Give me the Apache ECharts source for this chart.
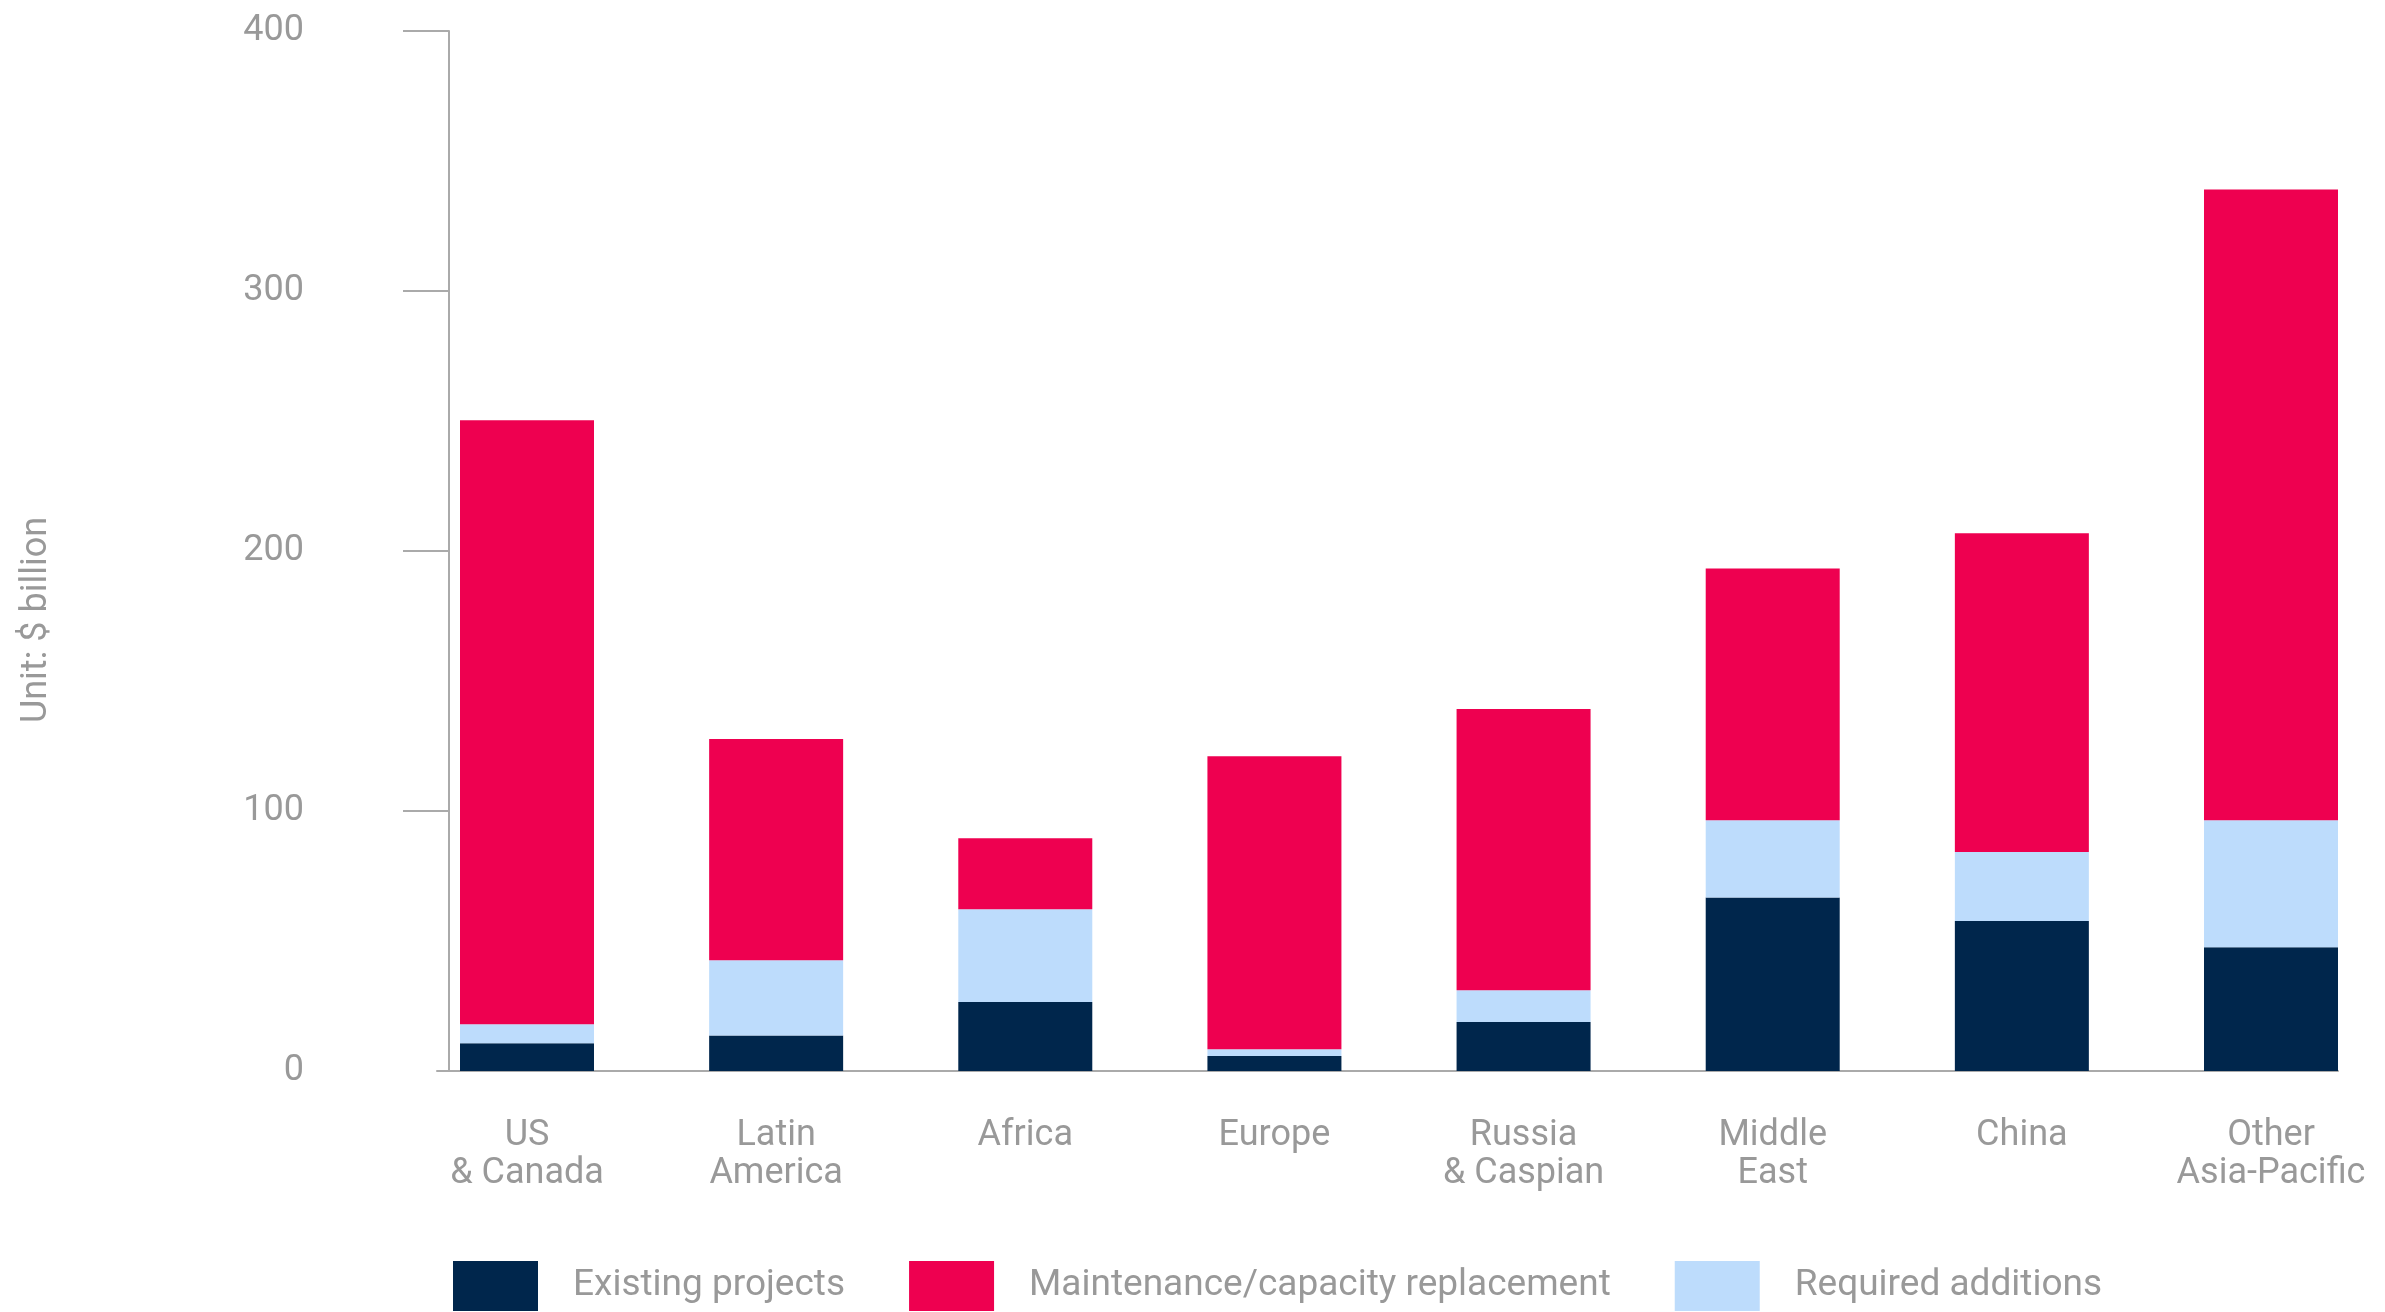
<!DOCTYPE html>
<html lang="en">
<head>
    <meta charset="UTF-8">
    <title>Investment by region</title>
    <script src="https://cdn.jsdelivr.net/npm/echarts@6.0.0/dist/echarts.min.js"></script>
    <style>
        html, body { margin: 0; padding: 0; background: #fff; }
        #chart { width: 2385px; height: 1312px; }
    </style>
</head>
<body>
    <div id="chart"></div>
    <script>
    // regions along the x axis
    var regions = ['US\n& Canada', 'Latin\nAmerica', 'Africa', 'Europe', 'Russia\n& Caspian', 'Middle\nEast', 'China', 'Other\nAsia-Pacific'];
    // $ billion
    var existingProjects = [10.7, 13.7, 26.5, 5.8, 18.8, 66.7, 57.7, 47.6];
    var requiredAdditions = [7.3, 28.9, 35.7, 2.6, 12.3, 29.7, 26.5, 48.8];
    var maintenance = [232.3, 85.1, 27.3, 112.7, 108.1, 96.9, 122.6, 242.6];
    var yTicks = [100, 200, 300, 400];

    var grey = '#999999';
    var font = 'Roboto, "Noto Sans", sans-serif';

    var chart = echarts.init(document.getElementById('chart'));

    var option = {
        animation: false,
        grid: [
            // bar grid: first and last category sit on the grid edges
            { left: 527, right: 114, top: 31, bottom: 241 },
            // axis-line grid
            { left: 437, right: 47, top: 31, bottom: 241 }
        ],
        legend: {
            left: 453,
            top: 1261,
            padding: 0,
            itemWidth: 85,
            itemHeight: 50,
            itemGap: 64,
            icon: 'rect',
            data: ['Existing projects', 'Maintenance/capacity replacement', 'Required additions'],
            textStyle: { color: grey, fontSize: 37, fontFamily: font, padding: [0, 0, 0, 30] }
        },
        xAxis: [
            {
                type: 'category',
                gridIndex: 0,
                boundaryGap: false,
                data: regions,
                axisLine: { show: false },
                axisTick: { show: false },
                axisLabel: { color: grey, fontSize: 36, fontFamily: font, lineHeight: 38, margin: 46 }
            },
            {
                type: 'value',
                gridIndex: 1,
                min: 0,
                max: 1,
                axisLine: { show: true, lineStyle: { color: '#aaaaaa', width: 2 } },
                axisTick: { show: false },
                axisLabel: { show: false },
                splitLine: { show: false }
            }
        ],
        yAxis: [
            {
                type: 'value',
                gridIndex: 0,
                min: 0,
                max: 400,
                interval: 100,
                show: false
            },
            {
                type: 'value',
                gridIndex: 1,
                min: 0,
                max: 400,
                interval: 100,
                offset: -12,
                name: 'Unit: $ billion',
                nameLocation: 'middle',
                nameGap: 394,
                nameTextStyle: { color: grey, fontSize: 36, fontFamily: font, padding: [0, 138, 0, 0] },
                axisLine: { show: true, lineStyle: { color: '#aaaaaa', width: 2 } },
                axisTick: { show: true, length: 46, customValues: yTicks, lineStyle: { color: '#aaaaaa', width: 2 } },
                axisLabel: { color: grey, fontSize: 36, fontFamily: font, margin: 145 },
                splitLine: { show: false }
            }
        ],
        series: [
            {
                name: 'Existing projects',
                type: 'bar',
                stack: 'total',
                barWidth: 134,
                clip: false,
                data: existingProjects,
                itemStyle: { color: '#00264C' }
            },
            {
                name: 'Required additions',
                type: 'bar',
                stack: 'total',
                barWidth: 134,
                clip: false,
                data: requiredAdditions,
                itemStyle: { color: '#BDDCFC' }
            },
            {
                name: 'Maintenance/capacity replacement',
                type: 'bar',
                stack: 'total',
                barWidth: 134,
                clip: false,
                data: maintenance,
                itemStyle: { color: '#EE0050' }
            }
        ]
    };

    chart.setOption(option);
    </script>
</body>
</html>
